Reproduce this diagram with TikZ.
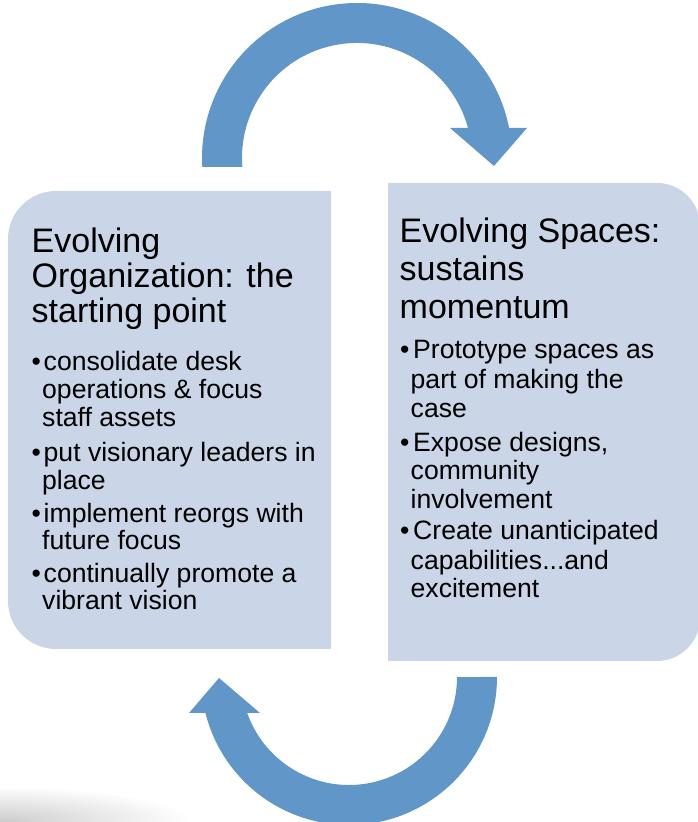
\documentclass[tikz,border=0pt]{standalone}
\usepackage{fontspec}
\setmainfont{Liberation Sans}
\definecolor{boxfill}{HTML}{CAD6E7}
\definecolor{arrowblue}{HTML}{6096C8}
\tikzset{
  panel/.style={fill=boxfill, draw=none},
  cyclearrow/.style={fill=arrowblue, draw=none},
  headtext/.style={anchor=base west, inner sep=0pt, font=\fontsize{34}{36}\selectfont},
  bodytext/.style={anchor=base west, inner sep=0pt, font=\fontsize{26.6}{28}\selectfont},
}
\begin{document}
\begin{tikzpicture}[x=1pt,y=1pt]
\useasboundingbox (0,0) rectangle (698,822);
% faint shadow at bottom-left
\shade[inner color=black!20, outer color=white] (0,0) ellipse[x radius=190pt, y radius=36pt];

% panels
\path[panel] (331,631) -- (56,631) arc[start angle=90,end angle=180,radius=48pt]
  -- (8,221) arc[start angle=180,end angle=270,radius=48pt] -- (331,173) -- cycle;
\path[panel] (388,639) -- (657,639) arc[start angle=90,end angle=0,radius=43pt]
  -- (700,204) arc[start angle=0,end angle=-90,radius=43pt] -- (388,161) -- cycle;

% top circular arrow
\path[cyclearrow] (202.3,655) arc[start angle=183.33,end angle=11.16,radius=155pt]
  -- (527,694) -- (494,656) -- (450,694) -- (468,694)
  arc[start angle=15.1,end angle=184.49,radius=115pt] -- cycle;
% bottom circular arrow
\path[cyclearrow] (497,145) arc[start angle=0,end angle=-165.93,radius=148pt]
  -- (189,109) -- (219,144) -- (260,109) -- (247.2,109)
  arc[start angle=-160.53,end angle=0,radius=108pt] -- cycle;

% left panel text
\node[headtext] (lh1) at (31.5,569) {Evolving};
\node[headtext] (lh2) at (31.5,534) {Organization: the};
\node[headtext] (lh3) at (31.5,499) {starting point};

\node[bodytext] (lb1) at (31.4,451) {•};
\node[bodytext] (l1a) at (43.5,451) {consolidate desk};
\node[bodytext] (l1b) at (42,423) {operations \& focus};
\node[bodytext] (l1c) at (42,395) {staff assets};
\node[bodytext] (lb2) at (31.4,360) {•};
\node[bodytext] (l2a) at (43.5,360) {put visionary leaders in};
\node[bodytext] (l2b) at (42,332) {place};
\node[bodytext] (lb3) at (31.4,299) {•};
\node[bodytext] (l3a) at (43.5,299) {implement reorgs with};
\node[bodytext] (l3b) at (42,272) {future focus};
\node[bodytext] (lb4) at (31.4,239) {•};
\node[bodytext] (l4a) at (43.5,239) {continually promote a};
\node[bodytext] (l4b) at (42,212) {vibrant vision};

% right panel text
\node[headtext] (rh1) at (399.5,579) {Evolving Spaces:};
\node[headtext] (rh2) at (399.5,541) {sustains};
\node[headtext] (rh3) at (399.5,503) {momentum};

\node[bodytext] (rb1) at (400,463) {•};
\node[bodytext] (r1a) at (413,463) {Prototype spaces as};
\node[bodytext] (r1b) at (410.5,433) {part of making the};
\node[bodytext] (r1c) at (410.5,404) {case};
\node[bodytext] (rb2) at (400,370) {•};
\node[bodytext] (r2a) at (413,370) {Expose designs,};
\node[bodytext] (r2b) at (410.5,342) {community};
\node[bodytext] (r2c) at (410.5,313) {involvement};
\node[bodytext] (rb3) at (400,282) {•};
\node[bodytext] (r3a) at (413,282) {Create unanticipated};
\node[bodytext] (r3b) at (410.5,252) {capabilities...and};
\node[bodytext] (r3c) at (410.5,224) {excitement};
\end{tikzpicture}
\end{document}
